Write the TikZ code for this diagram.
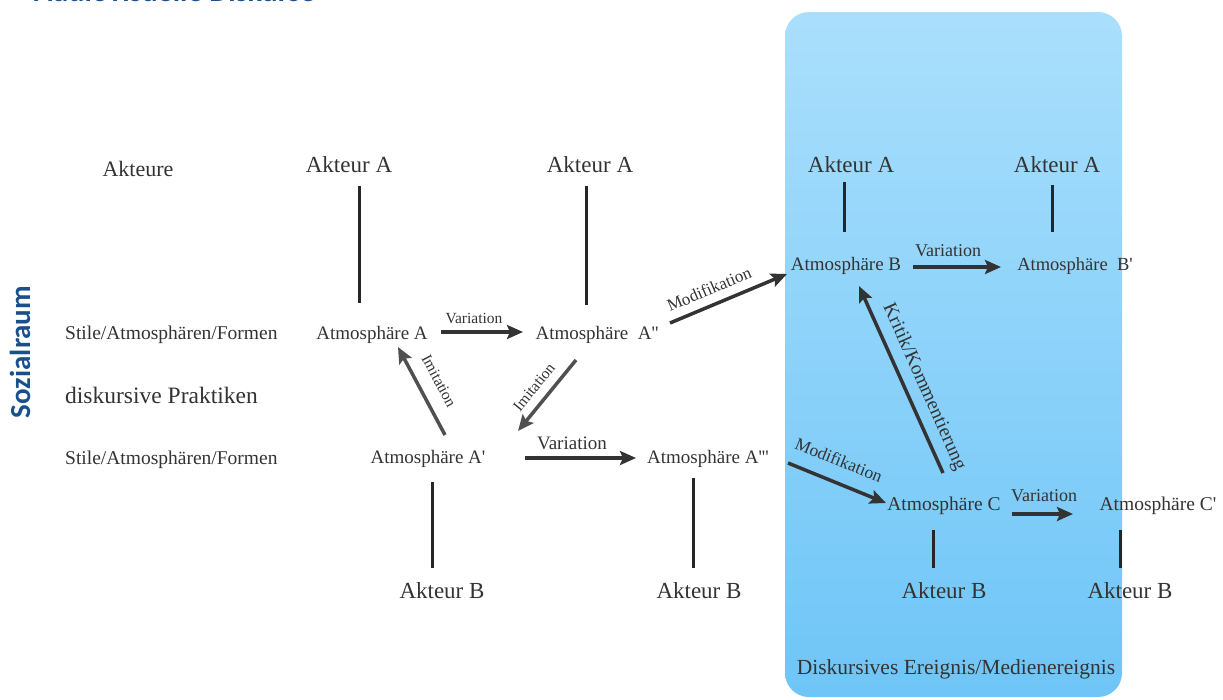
\documentclass[tikz,border=0pt]{standalone}
\usepackage{fontspec}
\setmainfont{Liberation Serif}
\newfontfamily\carlito{Carlito}
\usetikzlibrary{arrows.meta}
\definecolor{txt}{HTML}{333333}
\definecolor{lncol}{HTML}{262626}
\definecolor{arrcol}{HTML}{333333}
\definecolor{arrgray}{HTML}{505050}
\definecolor{titleblue}{RGB}{25,80,140}
\definecolor{boxtop}{RGB}{170,223,252}
\definecolor{boxbot}{RGB}{110,197,247}
\newcommand{\pr}{\textquotesingle}
\begin{document}
\begin{tikzpicture}[x=1pt,y=-1pt,
  fs/.style={font=\fontsize{#1}{#1}\selectfont},
  lbl/.style={text=txt, inner sep=0pt, anchor=base},
  lblw/.style={text=txt, inner sep=0pt, anchor=base west},
  rlbl/.style={text=txt, inner sep=0pt, anchor=center},
  vline/.style={draw=lncol, line width=3pt},
  arr/.style={draw=arrcol, line width=3.5pt, -{Stealth[length=16pt,width=14pt,inset=3pt]}},
  garr/.style={arr, draw=arrgray}
]
\useasboundingbox (0,0) rectangle (1223,699);
\clip (0,0) rectangle (1223,699);

% blue event box
\shade[top color=boxtop, bottom color=boxbot, rounded corners=24pt]
  (785,12) rectangle (1122,697);

% titles
\node[inner sep=0pt, anchor=base west, text=titleblue, font={\carlito\bfseries\fontsize{30}{30}\selectfont}] (title) at (34,1) {Audiovisuelle Diskurse};
\node[inner sep=0pt, rotate=90, text=titleblue, font={\carlito\bfseries\fontsize{29}{29}\selectfont}] (sozial) at (20,352) {Sozialraum};

% row labels
\node[lbl, fs=22] (akteure) at (138,176) {Akteure};
\node[lblw, fs=19.5] (stile1) at (65,339) {Stile/Atmosphären/Formen};
\node[lblw, fs=23.5] (prakt) at (65,403) {diskursive Praktiken};
\node[lblw, fs=19.5] (stile2) at (65,464) {Stile/Atmosphären/Formen};

% actors top
\node[lbl, fs=23] (akA1) at (349,172) {Akteur A};
\node[lbl, fs=23] (akA2) at (590,172) {Akteur A};
\node[lbl, fs=23] (akA3) at (851,172) {Akteur A};
\node[lbl, fs=23] (akA4) at (1057,172) {Akteur A};

% actors bottom
\node[lbl, fs=23] (akB1) at (442,598) {Akteur B};
\node[lbl, fs=23] (akB2) at (699,598) {Akteur B};
\node[lbl, fs=23] (akB3) at (944,598) {Akteur B};
\node[lbl, fs=23] (akB4) at (1130,598) {Akteur B};

% atmospheres
\node[lbl, fs=19] (atA) at (372,339) {Atmosphäre A};
\node[lbl, fs=19] (atA2) at (597,339) {Atmosphäre\ \ A\pr\pr};
\node[lbl, fs=19] (atB) at (846,270) {Atmosphäre B};
\node[lbl, fs=18.5] (atB1) at (1075,270) {Atmosphäre\ \ B\pr};
\node[lbl, fs=19] (atA1) at (428,463) {Atmosphäre A\pr};
\node[lbl, fs=19] (atA3) at (708,463) {Atmosphäre A\pr\pr\pr};
\node[lbl, fs=19.5] (atC) at (944,510) {Atmosphäre C};
\node[lbl, fs=19.5] (atC1) at (1158,510) {Atmosphäre C\pr};

\node[lbl, fs=21.5] (event) at (956,674) {Diskursives Ereignis/Medienereignis};

% vertical connector ends
\coordinate (l1a) at (359,186); \coordinate (l1b) at (359,303);
\coordinate (l2a) at (586,186); \coordinate (l2b) at (586,305);
\coordinate (l3a) at (844,182); \coordinate (l3b) at (844,232);
\coordinate (l4a) at (1052,185); \coordinate (l4b) at (1052,232);
\coordinate (l5a) at (432,568); \coordinate (l5b) at (432,482);
\coordinate (l6a) at (693,568); \coordinate (l6b) at (693,478);
\coordinate (l7a) at (933,568); \coordinate (l7b) at (933,530);
\coordinate (l8a) at (1120,568); \coordinate (l8b) at (1120,530);
\draw[vline] (l1a) -- (l1b);
\draw[vline] (l2a) -- (l2b);
\draw[vline] (l3a) -- (l3b);
\draw[vline] (l4a) -- (l4b);
\draw[vline] (l5a) -- (l5b);
\draw[vline] (l6a) -- (l6b);
\draw[vline] (l7a) -- (l7b);
\draw[vline] (l8a) -- (l8b);

% arrow ends
\coordinate (v1s) at (441,332); \coordinate (v1e) at (523,332);
\coordinate (m1s) at (670,323); \coordinate (m1e) at (787,274);
\coordinate (vbs) at (913,267); \coordinate (vbe) at (1001,267);
\coordinate (i1s) at (445,435); \coordinate (i1e) at (398,347);
\coordinate (i2s) at (576,360); \coordinate (i2e) at (518,431);
\coordinate (v2s) at (525,458); \coordinate (v2e) at (636,458);
\coordinate (m2s) at (788,463); \coordinate (m2e) at (886,503);
\coordinate (ks) at (943,473); \coordinate (ke) at (859,286);
\coordinate (vcs) at (1012,514); \coordinate (vce) at (1073,514);

\draw[arr] (v1s) -- (v1e);
\draw[arr] (m1s) -- (m1e);
\draw[arr] (vbs) -- (vbe);
\draw[garr] (i1s) -- (i1e);
\draw[garr] (i2s) -- (i2e);
\draw[arr] (v2s) -- (v2e);
\draw[arr] (m2s) -- (m2e);
\draw[arr] (ks) -- (ke);
\draw[arr] (vcs) -- (vce);

% arrow labels
\node[rlbl, fs=15.5] (lv1) at (474,318) {Variation};
\node[rlbl, fs=17, rotate=23] (lm1) at (709,289) {Modifikation};
\node[rlbl, fs=18, text=txt] (lvb) at (948,251) {Variation};
\node[rlbl, fs=15.5, rotate=-62] (li1) at (439,381) {Imitation};
\node[rlbl, fs=15.5, rotate=51] (li2) at (534,387) {Imitation};
\node[rlbl, fs=19] (lv2) at (572,443) {Variation};
\node[rlbl, fs=17.5, rotate=-22] (lm2) at (839,460) {Modifikation};
\node[rlbl, fs=19.5, rotate=-66] (lk) at (924,387) {Kritik/Kommentierung};
\node[rlbl, fs=18] (lvc) at (1044,496) {Variation};
\end{tikzpicture}
\end{document}
